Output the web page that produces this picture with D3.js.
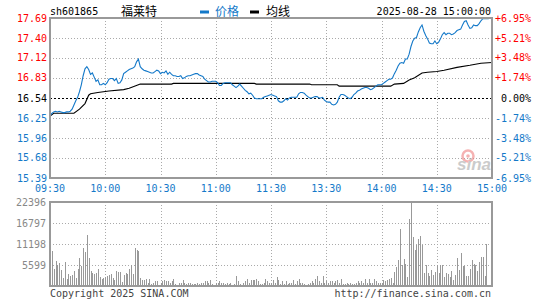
<!DOCTYPE html>
<html>
<head>
<meta charset="utf-8">
<style>
  body { margin: 0; background: #fff; }
  svg text { font-family: "DejaVu Sans Mono", monospace; font-size: 10px; }
  svg .cjk { font-family: "Noto Sans CJK SC", sans-serif; font-size: 12px; }
</style>
</head>
<body>
<script src="https://d3js.org/d3.v7.min.js"></script>
<script>
var width = 545, height = 300;

var code = "sh601865", stockName = "福莱特", stamp = "2025-08-28 15:00:00";
var prevClose = 16.54;

// one value per minute, 09:30-11:30 then 13:01-15:00
var prices = [
  16.28,16.32,16.34,16.35,16.34,16.35,16.34,16.33,16.33,16.34,
  16.34,16.35,16.38,16.44,16.50,16.55,16.63,16.73,16.86,16.96,
  16.99,16.95,16.88,16.90,16.84,16.78,16.80,16.73,16.73,16.75,
  16.73,16.76,16.81,16.82,16.82,16.79,16.82,16.75,16.76,16.80,
  16.89,16.91,16.93,16.95,16.96,16.97,16.99,17.06,17.10,16.99,
  16.96,16.94,16.93,16.92,16.91,16.90,16.90,16.92,16.94,16.93,
  16.89,16.91,16.90,16.93,16.88,16.91,16.88,16.86,16.86,16.85,
  16.85,16.86,16.82,16.83,16.85,16.86,16.86,16.87,16.88,16.89,
  16.89,16.87,16.86,16.85,16.81,16.79,16.77,16.77,16.78,16.78,
  16.78,16.76,16.72,16.72,16.75,16.76,16.76,16.76,16.76,16.73,
  16.71,16.69,16.71,16.74,16.71,16.68,16.65,16.63,16.60,16.61,
  16.58,16.54,16.53,16.53,16.53,16.53,16.55,16.56,16.57,16.58,
  16.59,16.58,16.57,16.56,16.50,16.48,16.48,16.50,16.53,16.51,
  16.54,16.55,16.55,16.55,16.55,16.60,16.62,16.62,16.61,16.58,
  16.56,16.54,16.54,16.55,16.56,16.56,16.54,16.54,16.55,16.51,
  16.49,16.48,16.48,16.45,16.44,16.45,16.48,16.55,16.59,16.59,
  16.58,16.56,16.54,16.53,16.55,16.59,16.61,16.64,16.65,16.67,
  16.68,16.69,16.69,16.68,16.66,16.67,16.69,16.71,16.73,16.73,
  16.73,16.75,16.77,16.79,16.81,16.81,16.83,16.89,16.94,17.00,
  17.04,17.05,17.04,17.10,17.10,17.17,17.28,17.36,17.40,17.41,
  17.49,17.55,17.59,17.50,17.44,17.39,17.33,17.32,17.32,17.36,
  17.32,17.34,17.39,17.45,17.48,17.45,17.47,17.47,17.45,17.46,
  17.48,17.51,17.52,17.53,17.59,17.64,17.65,17.59,17.54,17.55,
  17.59,17.58,17.58,17.61,17.65,17.68,17.68,17.68,17.68,17.69,
  17.69
];

// average line, [minute index, price]
var avgLine = [
  [0,16.28],[2,16.32],[13,16.32],[16,16.38],[19,16.46],[21,16.58],[22,16.60],
  [26,16.62],[32,16.64],[40,16.66],[43,16.68],[48,16.73],[49,16.74],[66,16.74],
  [67,16.75],[111,16.75],[112,16.74],[141,16.74],[142,16.73],[156,16.73],
  [157,16.71],[185,16.71],[187,16.74],[192,16.75],[195,16.80],[198,16.83],
  [202,16.90],[205,16.91],[210,16.92],[214,16.94],[221,16.98],[228,17.01],
  [234,17.04],[240,17.05]
];

var volumes = [
  2577,9242,4444,6576,5700,6000,4177,2250,6310,1900,
  3110,2577,2844,3910,2044,4444,7465,5332,10131,9065,
  13508,7465,3910,3377,3110,3377,4444,2311,1777,2044,
  2311,2666,2844,3110,2044,1511,3910,3644,3644,978,
  2844,3377,3110,4444,5688,3110,10131,9598,9420,2044,
  1511,1511,1777,889,1777,622,889,1244,1244,355,
  889,1244,1511,1244,1244,889,1244,1777,622,355,
  889,889,1511,889,622,889,889,622,622,622,
  889,622,889,889,1244,1244,889,1511,622,355,
  889,889,1244,889,889,622,889,622,889,355,
  622,2577,1244,622,355,889,1244,1777,889,1511,
  1511,1511,1955,1244,622,622,889,1777,1244,889,
  889,1511,889,2311,1511,622,1244,622,1244,622,
  889,889,1511,622,1244,1777,889,889,622,355,
  622,889,1244,889,1777,2577,1244,889,2577,889,
  1244,889,1244,1244,889,1244,1511,889,1777,622,
  622,889,622,889,622,622,889,1244,889,1244,
  889,1777,889,1777,889,889,1777,1244,889,889,
  889,1511,1244,1511,1777,2044,889,3733,5066,6843,
  15286,5688,7287,5954,2311,17774,22396,13064,9509,11020,
  12620,13242,10842,3377,5688,3377,2666,4177,3022,3733,
  5510,3377,5688,5688,2311,3555,3288,2400,3910,1511,
  2844,7465,4177,8887,5332,5332,2577,2577,4444,6843,
  5954,5510,3910,6399,7732,7732,2666,11286,0,0,
  0
];

var priceTicks = ["17.69","17.40","17.12","16.83","16.54","16.25","15.96","15.68","15.39"];
var pctTicks = ["+6.95%","+5.21%","+3.48%","+1.74%","0.00%","-1.74%","-3.48%","-5.21%","-6.95%"];
var timeTicks = ["09:30","10:00","10:30","11:00","11:30","13:30","14:00","14:30","15:00"];
var timeIdx = [0,30,60,90,120,150,180,210,240];
var volTicks = [22396,16797,11198,5599];

var blue = "#1479c9", red = "#ff0000", gridc = "#aaa", borderc = "#999";

var x = d3.scaleLinear().domain([0, 240]).range([50, 492]);
var y = d3.scaleLinear().domain([15.39, 17.69]).range([178, 18]);
var yv = d3.scaleLinear().domain([0, 22396]).range([286, 202]);

var svg = d3.select("body").append("svg")
    .attr("width", width).attr("height", height);

// header
svg.append("text").attr("x", 50).attr("y", 15).text(code);
svg.append("text").attr("class", "cjk").attr("x", 121).attr("y", 16).text(stockName);
svg.append("rect").attr("x", 200).attr("y", 10.5).attr("width", 9).attr("height", 3).attr("fill", blue);
svg.append("text").attr("class", "cjk").attr("x", 215).attr("y", 16).attr("fill", blue).text("价格");
svg.append("rect").attr("x", 250).attr("y", 10.5).attr("width", 9).attr("height", 3).attr("fill", "#000");
svg.append("text").attr("class", "cjk").attr("x", 266).attr("y", 16).text("均线");
svg.append("text").attr("x", 491).attr("y", 15).attr("text-anchor", "end").text(stamp);

// grids
var grid = svg.append("g").attr("shape-rendering", "crispEdges");
grid.selectAll("line.hp")
    .data(priceTicks.filter(t => +t !== prevClose && t !== "17.69" && t !== "15.39"))
  .enter().append("line")
    .attr("x1", 50).attr("x2", 492)
    .attr("y1", d => Math.round(y(+d)) + 0.5).attr("y2", d => Math.round(y(+d)) + 0.5)
    .attr("stroke", gridc).attr("stroke-dasharray", "1,2");
grid.selectAll("line.vp")
    .data(timeIdx.slice(1, -1))
  .enter().append("line")
    .attr("x1", d => Math.round(x(d)) + 0.5).attr("x2", d => Math.round(x(d)) + 0.5)
    .attr("y1", 18).attr("y2", 178)
    .attr("stroke", gridc).attr("stroke-dasharray", "1,2");
grid.selectAll("line.vv")
    .data(timeIdx.slice(1, -1))
  .enter().append("line")
    .attr("x1", d => Math.round(x(d)) + 0.5).attr("x2", d => Math.round(x(d)) + 0.5)
    .attr("y1", 202).attr("y2", 286)
    .attr("stroke", gridc).attr("stroke-dasharray", "1,2");
grid.selectAll("line.hv")
    .data(volTicks.slice(1))
  .enter().append("line")
    .attr("x1", 50).attr("x2", 492)
    .attr("y1", d => Math.round(yv(d)) + 0.5).attr("y2", d => Math.round(yv(d)) + 0.5)
    .attr("stroke", gridc).attr("stroke-dasharray", "1,2");

// sina watermark
var logo = svg.append("g").attr("opacity", 0.6);
logo.append("circle").attr("cx", 468).attr("cy", 156).attr("r", 5.5)
    .attr("fill", "none").attr("stroke", "#f08080").attr("stroke-width", 2.5);
logo.append("circle").attr("cx", 468).attr("cy", 156).attr("r", 1.8).attr("fill", "#f08080");
logo.append("text").attr("x", 457).attr("y", 170)
    .style("font-family", "Liberation Sans, sans-serif").style("font-size", "17px")
    .style("font-style", "italic").style("font-weight", "bold")
    .attr("fill", "#aaa").text("sina");

// prev close
svg.append("line")
    .attr("x1", 50).attr("x2", 492)
    .attr("y1", Math.round(y(prevClose)) + 0.5).attr("y2", Math.round(y(prevClose)) + 0.5)
    .attr("stroke", "#000").attr("stroke-dasharray", "2,2")
    .attr("shape-rendering", "crispEdges");

// volume bars
svg.append("g").selectAll("rect")
    .data(volumes)
  .enter().append("rect")
    .attr("x", (d, i) => Math.round(x(i)))
    .attr("y", d => yv(d))
    .attr("width", 1)
    .attr("height", d => yv(0) - yv(d))
    .attr("fill", "#999")
    .attr("shape-rendering", "crispEdges");

// lines
svg.append("path")
    .datum(avgLine)
    .attr("fill", "none").attr("stroke", "#000").attr("stroke-width", 1.1)
    .attr("d", d3.line().x(d => x(d[0])).y(d => y(d[1])));
svg.append("path")
    .datum(prices)
    .attr("fill", "none").attr("stroke", blue).attr("stroke-width", 1.1)
    .attr("d", d3.line().x((d, i) => x(i)).y(d => y(d)));

// borders
var bord = svg.append("g").attr("fill", "none").attr("stroke", borderc)
    .attr("stroke-width", 1.5).attr("shape-rendering", "crispEdges");
bord.append("rect").attr("x", 50).attr("y", 18).attr("width", 442).attr("height", 160);
bord.append("rect").attr("x", 50).attr("y", 202).attr("width", 442).attr("height", 84);

// axis labels
function tickColor(t) {
  return +t > prevClose ? red : (+t < prevClose ? blue : "#000");
}
svg.selectAll("text.lp")
    .data(priceTicks)
  .enter().append("text")
    .attr("x", 47).attr("y", d => y(+d) + 3.5)
    .attr("text-anchor", "end")
    .attr("fill", tickColor)
    .text(d => d);
svg.selectAll("text.rp")
    .data(pctTicks)
  .enter().append("text")
    .attr("x", 531).attr("y", (d, i) => y(+priceTicks[i]) + 3.5)
    .attr("text-anchor", "end")
    .attr("fill", (d, i) => tickColor(priceTicks[i]))
    .text(d => d);
svg.selectAll("text.tm")
    .data(timeTicks)
  .enter().append("text")
    .attr("x", (d, i) => x(timeIdx[i])).attr("y", 192)
    .attr("text-anchor", "middle")
    .attr("fill", blue)
    .text(d => d);
svg.selectAll("text.vl")
    .data(volTicks)
  .enter().append("text")
    .attr("x", 46).attr("y", d => yv(d) + 3.5)
    .attr("text-anchor", "end")
    .attr("fill", "#888")
    .text(d => d);

svg.append("text").attr("x", 50).attr("y", 297).attr("fill", "#444").text("Copyright 2025 SINA.COM");
svg.append("text").attr("x", 491).attr("y", 297).attr("text-anchor", "end").attr("fill", "#444")
    .text("http://finance.sina.com.cn");
</script>
</body>
</html>
